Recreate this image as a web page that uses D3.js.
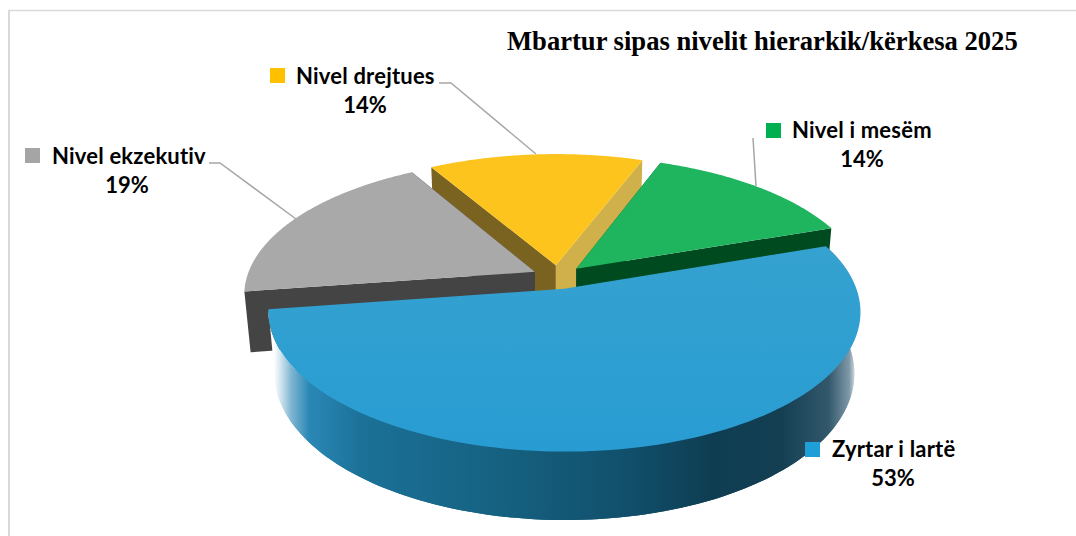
<!DOCTYPE html>
<html><head><meta charset="utf-8">
<script src="https://cdnjs.cloudflare.com/ajax/libs/d3/7.8.5/d3.min.js"></script>
<style>html,body{margin:0;padding:0;background:#fff}svg{display:block}</style>
</head><body><svg id="c" width="1076" height="536"></svg>
<script>
const title = "Mbartur sipas nivelit hierarkik/kërkesa 2025";
const categories = ["Zyrtar i lartë", "Nivel ekzekutiv", "Nivel drejtues", "Nivel i mesëm"];
const values = [53, 19, 14, 14];
const percentLabels = ["53%", "19%", "14%", "14%"];
const keyColors = ["#1f9fd8", "#a5a5a5", "#ffc000", "#00b050"];
const topColors = ["#2c9fd1", "#a9a9a9", "#fcc41c", "#1fb55f"];
const startFaceColors = ["#0e3d52", "#444444", "#7a6220", "#004a20"];
const endFaceColors = ["#0e3d52", "#444444", "#d0b04a", "#004a20"];

const svg = d3.select("#c");

// perspective model
const cx = 558, cy = 277, S = 288, elev = 27.4 * Math.PI / 180, D = 5.53, h = 0.24, explode = 0.09;
const f = S * D;
function project(X, Y, Z) {
  const d = D - Y * Math.cos(elev) - Z * Math.sin(elev);
  const s = Y * Math.sin(elev) - Z * Math.cos(elev);
  return [cx + f * X / d, cy + f * s / d];
}
const pie = d3.pie().sort(null).value(d => d)
  .startAngle(70.8 * Math.PI / 180).endAngle(430.8 * Math.PI / 180);
const arcs = pie(values);
const line = d3.line();

function pt(a, r, off, Z) {
  return project(off[0] + r * Math.sin(a), off[1] - r * Math.cos(a), Z);
}
function arcPts(arc, off, Z) {
  return d3.range(0, 121).map(i => pt(arc.startAngle + (arc.endAngle - arc.startAngle) * i / 120, 1, off, Z));
}

const defs = svg.append("defs");
const wall = defs.append("linearGradient").attr("id", "wall")
  .attr("gradientUnits", "userSpaceOnUse").attr("x1", 274).attr("x2", 858).attr("y1", 0).attr("y2", 0);
[[0, "#ffffff"], [0.012, "#cfe3ee"], [0.03, "#7db5d2"], [0.06, "#2a88b5"], [0.15, "#1b7198"], [0.4, "#15607f"],
 [0.6, "#11506c"], [0.75, "#0e3d52"], [0.87, "#143f53"], [0.95, "#33586c"], [0.985, "#7f99a8"], [1, "#ffffff"]]
  .forEach(s => wall.append("stop").attr("offset", s[0]).attr("stop-color", s[1]));
const topGrad = defs.append("linearGradient").attr("id", "blueTop")
  .attr("x1", 0).attr("y1", 0).attr("x2", 0).attr("y2", 1);
topGrad.append("stop").attr("offset", 0).attr("stop-color", "#35a2d0");
topGrad.append("stop").attr("offset", 1).attr("stop-color", "#289cd2");

// frame
const frame = svg.append("g").attr("fill", "none").attr("stroke", "#d9d9d9");
frame.append("path").attr("d", "M9 536V10.5").attr("stroke-width", 2);
frame.append("path").attr("d", "M8 10.5H1076").attr("stroke-width", 1.5);

// leader lines
const leaders = [
  [[209, 163], [220, 163], [296, 219]],
  [[439, 83], [451, 83], [536, 154]],
  [[753, 138], [756, 186]]
];
svg.append("g").selectAll("path").data(leaders).join("path")
  .attr("d", d => line(d)).attr("fill", "none").attr("stroke", "#a6a6a6").attr("stroke-width", 1.5);

// slices, back to front
const order = [2, 3, 1, 0];
order.forEach(i => {
  const a = arcs[i];
  const mid = (a.startAngle + a.endAngle) / 2;
  const off = [explode * Math.sin(mid), -explode * Math.cos(mid)];
  const g = svg.append("g");
  const apexT = project(off[0], off[1], 0), apexB = project(off[0], off[1], -h);
  const topArc = arcPts(a, off, 0), botArc = arcPts(a, off, -h);
  const face = (p, q, col) => g.append("path")
    .attr("d", line([apexT, p, q, apexB]) + "Z").attr("fill", col);
  if (i === 0) {
    g.append("path").attr("d", line([apexB, ...botArc]) + "Z").attr("fill", "url(#wall)");
    g.append("path").attr("d", line([...topArc, ...botArc.slice().reverse()]) + "Z").attr("fill", "url(#wall)");
  } else {
    face(topArc[0], botArc[0], startFaceColors[i]);
    face(topArc[120], botArc[120], endFaceColors[i]);
  }
  g.append("path").attr("d", line([apexT, ...topArc]) + "Z")
    .attr("fill", i === 0 ? "url(#blueTop)" : topColors[i]);
});

// title
svg.append("text").text(title).attr("x", 507).attr("y", 50)
  .attr("font-family", "'Liberation Serif'").attr("font-weight", "bold").attr("font-size", 26.6).attr("fill", "#000");

// labels
const labelX = [832, 52, 296, 792];
const labelY = [457, 164, 84, 138];
const pctX = [893, 127, 365, 862];
const pctY = [486, 193, 113, 167];
const keyX = [805, 25, 270, 766];
const keyY = [442, 148, 68, 123];
const lab = svg.append("g").attr("font-family", "Lato").attr("font-weight", "bold").attr("font-size", 22).attr("fill", "#000");
categories.forEach((c, i) => {
  lab.append("rect").attr("x", keyX[i]).attr("y", keyY[i]).attr("width", 15).attr("height", 15).attr("fill", keyColors[i]);
  lab.append("text").text(c).attr("x", labelX[i]).attr("y", labelY[i]).attr("letter-spacing", 0.2);
  lab.append("text").text(percentLabels[i]).attr("x", pctX[i]).attr("y", pctY[i]).attr("text-anchor", "middle");
});
</script></body></html>
